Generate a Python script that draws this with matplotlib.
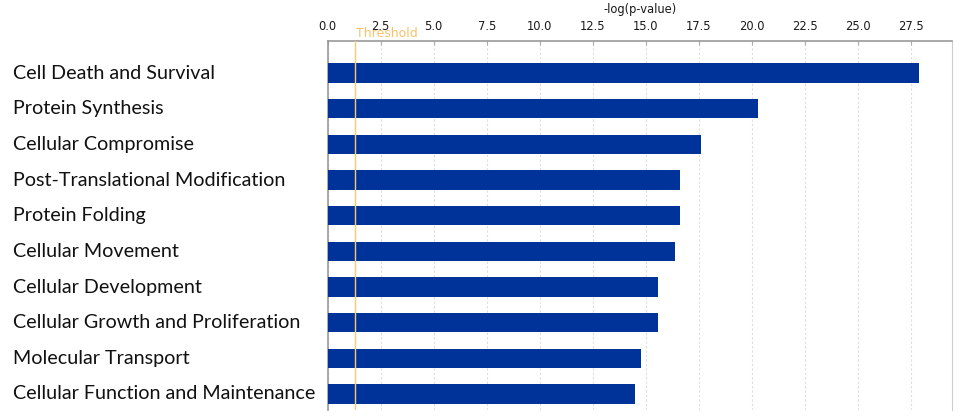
import matplotlib
matplotlib.use("Agg")
import matplotlib.pyplot as plt
import matplotlib.transforms as mtransforms
import numpy as np

categories = [
    "Cell Death and Survival",
    "Protein Synthesis",
    "Cellular Compromise",
    "Post-Translational Modification",
    "Protein Folding",
    "Cellular Movement",
    "Cellular Development",
    "Cellular Growth and Proliferation",
    "Molecular Transport",
    "Cellular Function and Maintenance",
]
values = [27.9, 20.3, 17.6, 16.6, 16.6, 16.4, 15.6, 15.6, 14.8, 14.5]
threshold = 1.3
xticks = [0.0, 2.5, 5.0, 7.5, 10.0, 12.5, 15.0, 17.5, 20.0, 22.5, 25.0, 27.5]
xlabel = "-log(p-value)"
threshold_label = "Threshold"

fig = plt.figure(figsize=(9.59, 4.19), dpi=100)
ax = fig.add_axes([327.7/959, 1-410/419, (952-327.7)/959, (410-41)/419])

y = np.arange(len(categories))
ax.barh(y, values, height=0.54, color="#003399", zorder=3)
ax.set_ylim(9.45, -0.9)
ax.set_xlim(0, 29.45)

ax.axvline(threshold, color="#ffc870", lw=1.0, zorder=4)

ax.xaxis.tick_top()
ax.xaxis.set_label_position("top")
ax.set_xticks(xticks)
ax.set_xticklabels([f"{t:.1f}" for t in xticks], fontsize=8.3, color="#1a1a1a",
                   family="DejaVu Sans")
ax.tick_params(axis="x", direction="in", length=3, color="#aaaaaa", pad=6)
ax.set_xlabel(xlabel, fontsize=8.3, color="#1a1a1a", labelpad=5)
ax.set_yticks([])
ax.grid(axis="x", color="#dddddd", linestyle=(0, (2, 2)), lw=0.8, zorder=0)

for side in ["top", "left"]:
    ax.spines[side].set_color("#999999")
    ax.spines[side].set_linewidth(1.2)
ax.spines["right"].set_color("#cccccc")
ax.spines["bottom"].set_visible(False)

ax.text(threshold + 0.05, 1.0, threshold_label,
        transform=mtransforms.blended_transform_factory(ax.transData, ax.transAxes) +
        mtransforms.ScaledTranslation(0, 1/100, fig.dpi_scale_trans),
        ha="left", va="bottom", fontsize=9, color="#f7b850", alpha=0.85,
        family="DejaVu Sans", clip_on=False)

trans = mtransforms.blended_transform_factory(fig.transFigure, ax.transData)
for yi, cat in zip(y, categories):
    ax.text(13/959, yi, cat, transform=trans, ha="left", va="center",
            fontsize=14.2, family="Lato", color="#111111")

fig.savefig("out.png", dpi=100)
